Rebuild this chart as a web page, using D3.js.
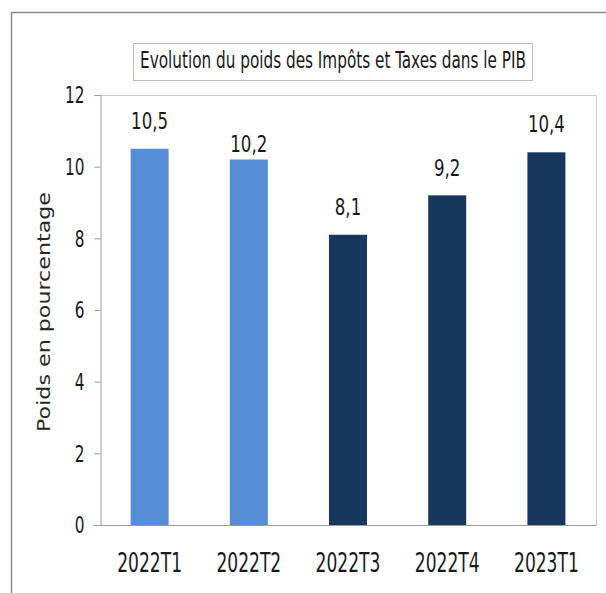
<!DOCTYPE html>
<html>
<head>
<meta charset="utf-8">
<script src="https://cdn.jsdelivr.net/npm/d3@7"></script>
<style>
  body { margin: 0; background: #fff; }
  svg { display: block; }
  .narrow { font-family: "Liberation Sans Narrow", "DejaVu Sans Condensed", "Liberation Sans", sans-serif; fill: #1a1a1a; }
</style>
</head>
<body>
<div id="chart"></div>
<script>
// chart data
var quarters = ["2022T1", "2022T2", "2022T3", "2022T4", "2023T1"];
var poids = [10.5, 10.2, 8.1, 9.2, 10.4];
var barColors = ["#558ed5", "#558ed5", "#17375e", "#17375e", "#17375e"];
var yTicks = [0, 2, 4, 6, 8, 10, 12];
var chartTitle = "Evolution du poids des Impôts et Taxes dans le PIB";
var yTitle = "Poids en pourcentage";

// Step 1: set up the chart
var svgWidth = 606, svgHeight = 593;
var plot = { left: 100, right: 596, top: 95, bottom: 525 };

var svg = d3.select("#chart").append("svg")
  .attr("width", svgWidth)
  .attr("height", svgHeight);

// outer frame (runs off the right/bottom edge like the screenshot)
svg.append("rect")
  .attr("x", 11.5).attr("y", 12.5)
  .attr("width", 700).attr("height", 700)
  .attr("fill", "none")
  .attr("stroke", "#8c8c8c")
  .attr("stroke-width", 1.5);

// scales
var x = d3.scaleBand()
  .domain(quarters)
  .range([plot.left, plot.right])
  .paddingInner(0.617)
  .paddingOuter(0.3085);

var y = d3.scaleLinear()
  .domain([0, 12])
  .range([plot.bottom, plot.top]);

// plot area border (top + right)
svg.append("path")
  .attr("d", `M${plot.left},${plot.top + 0.5}H${plot.right + 0.5}V${plot.bottom}`)
  .attr("fill", "none")
  .attr("stroke", "#c8c8c8");

// bars
svg.selectAll("rect.bar")
  .data(poids)
  .enter()
  .append("rect")
  .attr("class", "bar")
  .attr("x", (d, i) => x(quarters[i]))
  .attr("y", d => y(d))
  .attr("width", x.bandwidth())
  .attr("height", d => y(0) - y(d))
  .attr("fill", (d, i) => barColors[i]);

// y axis
var yAxis = svg.append("g")
  .attr("transform", `translate(${plot.left + 0.5},0)`)
  .call(d3.axisLeft(y).tickValues(yTicks).tickSize(6).tickFormat(d3.format("d")));
yAxis.select(".domain").attr("stroke", "#9a9a9a");
yAxis.selectAll(".tick line").attr("stroke", "#9a9a9a");
// labels are a tall, narrow face in the original: stretch them vertically
yAxis.selectAll(".tick text")
  .attr("class", "narrow")
  .attr("font-size", 17)
  .attr("x", 0).attr("dy", "0.36em")
  .attr("transform", "translate(-16,0) scale(1,1.3)");

// x axis
var xAxis = svg.append("g")
  .attr("transform", `translate(0,${plot.bottom + 0.5})`)
  .call(d3.axisBottom(x).tickSize(0).tickPadding(0));
xAxis.select(".domain").attr("stroke", "#9a9a9a").attr("d", `M${plot.left - 6},0H${plot.right + 0.5}`);
xAxis.selectAll(".tick text")
  .attr("class", "narrow")
  .attr("font-size", 19)
  .attr("y", 0).attr("dy", null)
  .attr("transform", "translate(0,46) scale(1,1.4)");

// value labels; the 2022T2 label sits closer to its bar in the original
var labelLift = [20, 8, 20, 19, 20];
svg.selectAll("text.value")
  .data(poids)
  .enter()
  .append("text")
  .attr("class", "value narrow")
  .attr("font-size", 18.5)
  .attr("text-anchor", "middle")
  .attr("transform", (d, i) => `translate(${x(quarters[i]) + x.bandwidth() / 2},${y(d) - labelLift[i]}) scale(1,1.28)`)
  .text(d => d3.format(".1f")(d).replace(".", ","));

// title box
svg.append("rect")
  .attr("x", 133.5).attr("y", 43.5)
  .attr("width", 399).attr("height", 37)
  .attr("fill", "#fff")
  .attr("stroke", "#bdbdbd");

svg.append("text")
  .attr("class", "narrow")
  .attr("font-size", 20)
  .attr("text-anchor", "middle")
  .attr("textLength", 386)
  .attr("lengthAdjust", "spacingAndGlyphs")
  .attr("transform", "translate(333,68) scale(1,1.12)")
  .text(chartTitle);

// y axis title
svg.append("text")
  .attr("transform", `translate(50,${(192 + 432) / 2}) rotate(-90)`)
  .attr("text-anchor", "middle")
  .attr("font-family", "DejaVu Sans, Verdana, sans-serif")
  .attr("font-size", 17)
  .attr("fill", "#262626")
  .attr("textLength", 240)
  .attr("lengthAdjust", "spacingAndGlyphs")
  .text(yTitle);
</script>
</body>
</html>
